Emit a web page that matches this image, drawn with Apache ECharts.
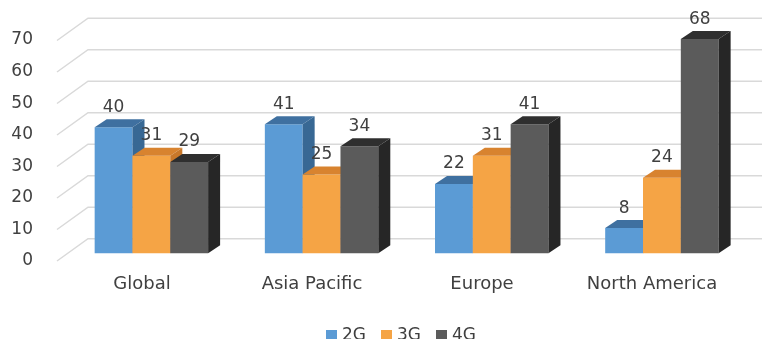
<!DOCTYPE html>
<html>
<head>
<meta charset="utf-8">
<script src="https://cdn.jsdelivr.net/npm/echarts@6/dist/echarts.min.js"></script>
<style>
  html, body { margin: 0; padding: 0; background: #fff; }
  #chart { width: 762px; height: 339px; }
</style>
</head>
<body>
<div id="chart"></div>
<script>
const categories = ['Global', 'Asia Pacific', 'Europe', 'North America']
const seriesNames = ['2G', '3G', '4G']
const values2G = [40, 41, 22, 8]
const values3G = [31, 25, 31, 24]
const values4G = [29, 34, 41, 68]
const yTicks = [0, 10, 20, 30, 40, 50, 60, 70]

// front / top / side colours for each series
const faceColors = [
  ['#5b9bd5', '#3f70a0', '#386894'],
  ['#f5a445', '#d8832f', '#c9782a'],
  ['#5b5b5b', '#2f2f2f', '#262626']
]
const textColor = '#404040'
const depthX = 12, depthY = 8

const chart = echarts.init(document.getElementById('chart'))

function barRender(si) {
  return function (params, api) {
    const idx = api.value(0)
    const val = api.value(1)
    const top = api.coord([idx, val])
    const base = api.coord([idx, 0])
    const band = api.size([1, 0])[0]
    const bw = band / 4.5
    const xl = top[0] - 1.5 * bw + si * bw
    const xr = xl + bw
    const yt = top[1], yb = base[1]
    const c = faceColors[si]
    return {
      type: 'group',
      children: [
        { type: 'rect', shape: { x: xl, y: yt, width: bw, height: yb - yt }, style: { fill: c[0] } },
        { type: 'polygon', shape: { points: [[xl, yt], [xl + depthX, yt - depthY], [xr + depthX, yt - depthY], [xr, yt]] }, style: { fill: c[1] } },
        { type: 'polygon', shape: { points: [[xr, yt], [xr + depthX, yt - depthY], [xr + depthX, yb - depthY], [xr, yb]] }, style: { fill: c[2] } },
        { type: 'text', z2: 10, style: { text: String(val), x: xl + bw / 2, y: yt - 20, align: 'center', verticalAlign: 'middle', fill: textColor, font: '17px "DejaVu Sans"' } }
      ]
    }
  }
}

// floor diagonals and back wall gridlines
function wallRender(params, api) {
  const v = api.value(0)
  const p = api.coord([0, v])
  const cs = params.coordSys
  const y = p[1]
  const x0 = cs.x
  return {
    type: 'polyline',
    shape: { points: [[x0 - 9.3, y + 7.7], [x0 + 21.7, y - 14.6], [762, y - 14.6]] },
    style: { fill: null, stroke: '#d9d9d9', lineWidth: 1.5 }
  }
}

const bars = [values2G, values3G, values4G].map(function (vals, si) {
  return {
    name: seriesNames[si],
    type: 'custom',
    xAxisIndex: 0,
    yAxisIndex: 0,
    itemStyle: { color: faceColors[si][0] },
    renderItem: barRender(si),
    data: vals.map(function (v, i) { return [i, v] }),
    z: 3
  }
})

const option = {
  animation: false,
  textStyle: { fontFamily: 'DejaVu Sans' },
  grid: [
    // plane of the bars
    { left: 66.3, right: 15, top: 32.8, bottom: 85.7 },
    // front plane, carries the axis labels
    { left: 57, right: 25, top: 40, bottom: 78 }
  ],
  xAxis: [
    { gridIndex: 0, type: 'category', data: categories, show: false },
    {
      gridIndex: 1, type: 'category', data: categories,
      axisLine: { show: false }, axisTick: { show: false },
      axisLabel: { color: textColor, fontSize: 18, margin: 14 }
    }
  ],
  yAxis: [
    { gridIndex: 0, type: 'value', min: 0, max: 70, interval: 10, show: false },
    {
      gridIndex: 1, type: 'value', min: 0, max: 70, interval: 10,
      axisLine: { show: false }, axisTick: { show: false }, splitLine: { show: false },
      axisLabel: { color: textColor, fontSize: 17, margin: 24 }
    }
  ],
  legend: {
    data: seriesNames,
    left: 321,
    top: 322,
    icon: 'rect',
    itemWidth: 11,
    itemHeight: 11,
    itemGap: 15,
    textStyle: { color: textColor, fontSize: 17 }
  },
  series: [
    {
      type: 'custom',
      xAxisIndex: 0,
      yAxisIndex: 0,
      renderItem: wallRender,
      data: yTicks.map(function (t) { return [t] }),
      encode: { y: 0 },
      silent: true,
      z: 1
    }
  ].concat(bars)
}

chart.setOption(option)
</script>
</body>
</html>
